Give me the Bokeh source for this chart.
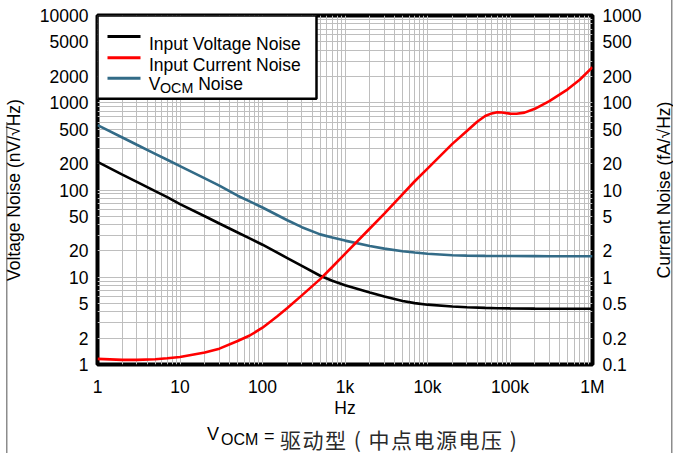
from bokeh.plotting import figure
from bokeh.layouts import column, row
from bokeh.models import (Range1d, LogScale, LogAxis, FixedTicker, Label,
                          BoxAnnotation, Div)
from bokeh.embed import file_html
from bokeh.resources import INLINE

# --- data -------------------------------------------------------------
freq = [1, 2, 3, 5, 7, 10, 20, 30, 50, 70, 100, 200, 300, 500, 700,
        1e3, 2e3, 3e3, 5e3, 7e3, 1e4, 2e4, 3e4, 5e4, 7e4, 1e5, 2e5, 3e5,
        5e5, 7e5, 1e6]
# input voltage noise, nV/sqrt(Hz)
voltage_noise = [210, 150, 124, 97, 83, 69, 50, 41.3, 32.6, 27.9, 23.6,
                 16.6, 13.5, 10.4, 9.1, 8.1, 6.7, 6.0, 5.35, 5.05, 4.85,
                 4.62, 4.53, 4.46, 4.42, 4.4, 4.37, 4.36, 4.35, 4.35, 4.35]
# VOCM noise, nV/sqrt(Hz)
vocm_noise = [555, 400, 330, 260, 222, 188, 136, 112, 86, 74, 63, 45,
              37.5, 31, 28.5, 26.3, 22.8, 21.3, 19.9, 19.2, 18.6, 17.9,
              17.7, 17.6, 17.55, 17.5, 17.45, 17.4, 17.4, 17.4, 17.4]

cur_freq = [1, 2, 3, 5, 7, 10, 20, 30, 50, 70, 100, 150, 200, 300, 500,
            700, 1e3, 2e3, 3e3, 5e3, 7e3, 1e4, 2e4, 3e4, 4e4, 5e4, 6e4,
            7e4, 8e4, 1e5, 1.2e5, 1.5e5, 2e5, 3e5, 5e5, 7e5, 1e6]
# input current noise, fA/sqrt(Hz)
current_noise = [0.116, 0.113, 0.113, 0.115, 0.118, 0.122, 0.137, 0.152,
                 0.186, 0.215, 0.264, 0.355, 0.444, 0.62, 0.952, 1.31,
                 1.85, 3.62, 5.36, 8.98, 12.6, 17.6, 33.8, 47.4, 60.5,
                 70.5, 75.5, 77.8, 77.3, 75.0, 74.8, 77.0, 85.2, 104.5,
                 142.6, 183.7, 255.5]

x_ticks = [1, 10, 100, 1000, 10000, 100000, 1000000]
x_tick_labels = ["1", "10", "100", "1k", "10k", "100k", "1M"]
v_ticks = [1, 2, 5, 10, 20, 50, 100, 200, 500, 1000, 2000, 5000, 10000]
v_tick_labels = ["1", "2", "5", "10", "20", "50", "100", "200", "500",
                 "1000", "2000", "5000", "10000"]
i_ticks = [0.1, 0.2, 0.5, 1, 2, 5, 10, 20, 50, 100, 200, 500, 1000]
i_tick_labels = ["0.1", "0.2", "0.5", "1", "2", "5", "10", "20", "50",
                 "100", "200", "500", "1000"]

# --- styling ----------------------------------------------------------
FONT = "Liberation Sans"
CJK_FONT = "Noto Sans CJK SC"
FS = "17.5px"
BLACK = "#000000"
RED = "#FF0000"
BLUE = "#336B87"
GRID = "#BEBEBE"
EDGE = "#8C8C8C"


def decade_minors(lo_exp, hi_exp, skip=()):
    out = []
    for e in range(lo_exp, hi_exp):
        for k in range(2, 10):
            if k not in skip:
                out.append(k * 10 ** e)
    return out


p = figure(width=655, height=420, x_axis_type="log", y_axis_type="log",
           x_range=Range1d(1, 1e6), y_range=Range1d(1, 1e4),
           output_backend="svg", toolbar_location=None,
           min_border_left=97, min_border_right=63,
           min_border_top=15, min_border_bottom=56)
p.background_fill_color = "white"
p.border_fill_color = None
p.outline_line_color = "black"
p.outline_line_width = 4

p.extra_y_ranges = {"current": Range1d(0.1, 1000)}
p.extra_y_scales = {"current": LogScale()}
right_axis = LogAxis(y_range_name="current")
p.add_layout(right_axis, "right")

x_ticker = FixedTicker(ticks=x_ticks, minor_ticks=decade_minors(0, 6))
v_ticker = FixedTicker(ticks=v_ticks,
                       minor_ticks=decade_minors(0, 4, skip=(2, 5)))
i_ticker = FixedTicker(ticks=i_ticks,
                       minor_ticks=[m / 10 for m in decade_minors(0, 4, skip=(2, 5))])

xa = p.xaxis[0]
ya = p.yaxis[0]
xa.ticker = x_ticker
ya.ticker = v_ticker
right_axis.ticker = i_ticker
xa.major_label_overrides = dict(zip(x_ticks, x_tick_labels))
ya.major_label_overrides = dict(zip(v_ticks, v_tick_labels))
right_axis.major_label_overrides = dict(zip(i_ticks, i_tick_labels))
xa.axis_label = "Hz"
ya.axis_label = "Voltage Noise (nV/\u221aHz)"

for ax in (xa, ya, right_axis):
    ax.axis_line_color = None
    ax.major_tick_line_color = None
    ax.minor_tick_line_color = None
    ax.major_tick_out = 0
    ax.minor_tick_out = 0
    ax.major_label_text_font = FONT
    ax.major_label_text_font_size = FS
    ax.major_label_text_color = "black"
    ax.axis_label_text_font = FONT
    ax.axis_label_text_font_size = FS
    ax.axis_label_text_font_style = "normal"
    ax.axis_label_text_color = "black"

xa.major_label_standoff = 12
xa.axis_label_standoff = -2
ya.major_label_standoff = 9
ya.axis_label_standoff = 13
right_axis.major_label_standoff = 10

for g in (p.xgrid[0], p.ygrid[0]):
    g.grid_line_color = GRID
    g.grid_line_width = 1
    g.minor_grid_line_color = GRID
    g.minor_grid_line_width = 1
p.xgrid[0].ticker = x_ticker
p.ygrid[0].ticker = v_ticker

# --- curves -----------------------------------------------------------
p.line(freq, voltage_noise, line_color=BLACK, line_width=2.6)
p.line(freq, vocm_noise, line_color=BLUE, line_width=2.6)
p.line(cur_freq, current_noise, line_color=RED, line_width=2.6,
       y_range_name="current")

# --- legend (screen units, origin at the frame's lower-left corner) ----
p.add_layout(BoxAnnotation(left=0, right=219, bottom=265.7, top=349,
                           left_units="screen", right_units="screen",
                           bottom_units="screen", top_units="screen",
                           fill_color="white", fill_alpha=1,
                           line_color="black", line_alpha=1,
                           line_width=2.5))
for yc, col in ((328, BLACK), (306.7, RED), (286.3, BLUE)):
    p.add_layout(BoxAnnotation(left=10, right=43, bottom=yc - 1.5,
                               top=yc + 1.5, left_units="screen",
                               right_units="screen", bottom_units="screen",
                               top_units="screen", fill_color=col,
                               fill_alpha=1, line_color=None))


def add_text(x, y, text, size=FS):
    p.add_layout(Label(x=x, y=y, x_units="screen", y_units="screen",
                       text=text, text_font=FONT, text_font_size=size,
                       text_color="black", text_align="left",
                       text_baseline="alphabetic"))


add_text(51.5, 320.7, "Input Voltage Noise")
add_text(51.5, 300, "Input Current Noise")
add_text(51.3, 280.7, "V")
add_text(62.5, 276.7, "OCM", size="14.3px")
add_text(100.7, 280.7, "Noise")

# --- right-hand axis title, reading bottom to top ----------------------
right_title = Div(
    text=(
        '<div style="position:relative;width:18px;height:420px;">'
        '<span style="position:absolute;left:9px;top:190px;'
        'white-space:nowrap;line-height:1;color:#000;'
        f'font:{FS} \'{FONT}\';'
        'transform:translate(-50%,-50%) rotate(-90deg);">'
        'Current Noise (fA/\u221aHz)</span></div>'
    ),
    width=18, height=420, margin=(0, 0, 0, 0))

# --- condition line under the chart -----------------------------------
span = "position:absolute;white-space:nowrap;line-height:1;color:#000;"
caption_html = (
    '<div style="position:relative;width:673px;height:33px;">'
    f'<span style="{span}left:207px;top:4.3px;font:18px \'{FONT}\';">V</span>'
    f'<span style="{span}left:221px;top:10.5px;font:16px \'{FONT}\';">OCM</span>'
    f'<span style="{span}left:264px;top:5.5px;font:18px \'{FONT}\';">=</span>'
    f'<span style="{span}left:280px;top:4px;font:21px \'{CJK_FONT}\';'
    'letter-spacing:1.5px;color:#2a2a2a;">驱动型 ( 中点电源电压 )</span>'
    '</div>'
)
caption = Div(text=caption_html, width=673, height=33, margin=(0, 0, 0, 0))

layout = column(row(p, right_title, spacing=0), caption, spacing=0)
layout.styles = {
    "background": (
        f"linear-gradient({EDGE},{EDGE}) 6px 122px / 1.5px 331px no-repeat, "
        f"linear-gradient({EDGE},{EDGE}) 671px 0px / 1.5px 453px no-repeat, "
        "#ffffff"
    )
}

open("out.html", "w").write(file_html(layout, INLINE))
